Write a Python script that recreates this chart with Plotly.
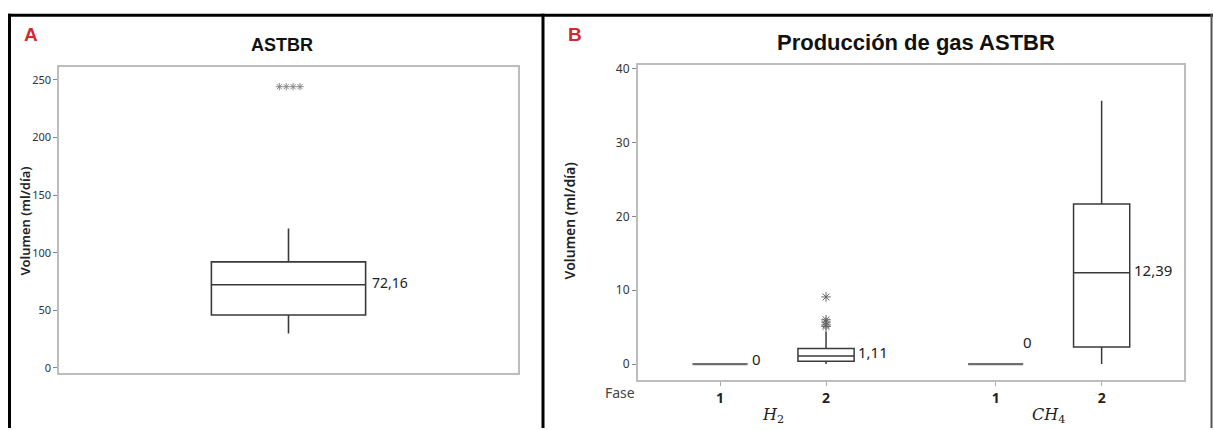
import plotly.graph_objects as go

W, H = 1213, 430

# ---------------- data ----------------
# Panel A: ASTBR daily volume (ml/día)
a_stats = dict(lower=30.0, q1=46.0, median=72.16, q3=92.0, upper=121.0)
a_outliers = [244.0, 244.0, 244.0, 244.0]

# Panel B: gas production per phase
b_gases = ["H2", "H2", "CH4", "CH4"]
b_phases = ["1", "2", "1", "2"]
b_lower = [0.0, 0.0, 0.0, 0.0]
b_q1 = [0.0, 0.4, 0.0, 2.3]
b_median = [0.0, 1.11, 0.0, 12.39]
b_q3 = [0.0, 2.1, 0.0, 21.7]
b_upper = [0.0, 4.4, 0.0, 35.7]
b_h2_outliers = [9.1, 6.0, 5.7, 5.3, 5.1]

a_ticks = [0, 50, 100, 150, 200, 250]
b_ticks = [0, 10, 20, 30, 40]

# ---------------- layout helpers ----------------
def px_x(p):
    return p / W

def px_y(p):
    return 1 - p / H

b_pos = [1.0, 2.0, 3.6, 4.6]

def fmt(v):
    s = f"{v:.2f}".rstrip("0").rstrip(".")
    return s.replace(".", ",")

BOX_LINE = "#3a3a3a"
FLAT_LINE = "#6e6e6e"
FRAME = "#bdbdbd"
TXT = "#333333"

fig = go.Figure()

# Panel A box
fig.add_trace(go.Box(
    x=[1.0], q1=[a_stats["q1"]], median=[a_stats["median"]], q3=[a_stats["q3"]],
    lowerfence=[a_stats["lower"]], upperfence=[a_stats["upper"]],
    width=0.672, whiskerwidth=0, fillcolor="white",
    line=dict(color=BOX_LINE, width=1.6), boxpoints=False,
    xaxis="x", yaxis="y", showlegend=False, hoverinfo="skip"))

# Panel A outliers, stacked side by side
a_offsets = [-0.04, -0.01, 0.02, 0.05]
fig.add_trace(go.Scatter(
    x=[1.0 + o for o in a_offsets], y=a_outliers, mode="markers",
    marker=dict(symbol="asterisk-open", size=6, color="#8a8a8a",
                line=dict(color="#8a8a8a", width=1)),
    xaxis="x", yaxis="y", showlegend=False, hoverinfo="skip"))

# Panel B boxes
for i in range(4):
    flat = b_q3[i] == b_q1[i]
    fig.add_trace(go.Box(
        x=[b_pos[i]], q1=[b_q1[i]], median=[b_median[i]], q3=[b_q3[i]],
        lowerfence=[b_lower[i]], upperfence=[b_upper[i]],
        width=0.52 if flat else 0.53, whiskerwidth=0, fillcolor="white",
        line=dict(color=FLAT_LINE if flat else BOX_LINE, width=2.2 if flat else 1.5),
        boxpoints=False, xaxis="x2", yaxis="y2", showlegend=False, hoverinfo="skip"))

# Panel B outliers (H2, phase 2)
fig.add_trace(go.Scatter(
    x=[b_pos[1]] * len(b_h2_outliers), y=b_h2_outliers, mode="markers",
    marker=dict(symbol="asterisk-open", size=8, color="#666666",
                line=dict(color="#666666", width=1)),
    xaxis="x2", yaxis="y2", showlegend=False, hoverinfo="skip"))

tick_font_a = dict(family="Noto Sans", size=11, color=TXT)
tick_font_b = dict(family="Noto Sans", size=12, color=TXT)

fig.update_layout(
    width=W, height=H,
    margin=dict(l=0, r=0, t=0, b=0),
    paper_bgcolor="white", plot_bgcolor="white",
    boxmode="overlay",
    xaxis=dict(domain=[px_x(59), px_x(518)], range=[0, 2], showticklabels=False,
               ticks="", showgrid=False, zeroline=False, showline=True, mirror=True,
               linecolor=FRAME, linewidth=1.5),
    yaxis=dict(domain=[px_y(374), px_y(63)], range=[-4.27, 261.1], tickvals=a_ticks,
               ticks="outside", ticklen=4, tickcolor="#888", tickfont=tick_font_a,
               showgrid=False, zeroline=False, showline=True, mirror=True,
               linecolor=FRAME, linewidth=1.5),
    xaxis2=dict(domain=[px_x(638), px_x(1184)], range=[0.226, 5.377], anchor="y2",
                tickvals=b_pos, ticktext=[f"<b>{p}</b>" for p in b_phases],
                ticks="outside", ticklen=4, tickcolor="#aaa",
                tickfont=dict(family="Noto Sans", size=14, color="#222"),
                showgrid=False, zeroline=False, showline=True, mirror=True,
                linecolor=FRAME, linewidth=2),
    yaxis2=dict(domain=[px_y(381), px_y(61)], range=[-2.13, 40.53], anchor="x2",
                tickvals=b_ticks, ticks="outside", ticklen=4, tickcolor="#888",
                tickfont=tick_font_b, showgrid=False, zeroline=False, showline=True,
                mirror=True, linecolor=FRAME, linewidth=2),
)

def paper_text(text, xp, yp, font, angle=0):
    return dict(text=text, x=px_x(xp), y=px_y(yp), xref="paper", yref="paper",
                xanchor="center", yanchor="middle", textangle=angle,
                showarrow=False, font=font)

ann = []
# panel letters
ann.append(paper_text("<b>A</b>", 31, 30,
                      dict(family="Liberation Sans", size=19, color="#d42a2f")))
ann.append(paper_text("<b>B</b>", 575, 30,
                      dict(family="Liberation Sans", size=19, color="#d42a2f")))
# titles
ann.append(paper_text("<b>ASTBR</b>", 282, 41,
                      dict(family="Liberation Sans", size=18, color="#111")))
ann.append(paper_text("<b>Producción de gas ASTBR</b>", 916, 38,
                      dict(family="Liberation Sans", size=22, color="#111")))
# y-axis titles
ann.append(paper_text("Volumen (ml/día)", 25, 220,
                      dict(family="Noto Sans", size=13, color="#222", weight=600), angle=-90))
ann.append(paper_text("Volumen (ml/día)", 569, 220,
                      dict(family="Noto Sans", size=14, color="#222", weight=600), angle=-90))
# "Fase" caption and gas names
ann.append(paper_text("Fase", 620, 394, dict(family="Noto Sans", size=14, color="#444")))
gas_label = {"H2": "<i>H</i><sub>2</sub>", "CH4": "<i>CH</i><sub>4</sub>"}
for g, centre in (("H2", (b_pos[0] + b_pos[1]) / 2), ("CH4", (b_pos[2] + b_pos[3]) / 2)):
    ann.append(dict(text=gas_label[g], x=centre, y=px_y(417), xref="x2", yref="paper",
                    xanchor="center", yanchor="middle", showarrow=False,
                    font=dict(family="DejaVu Serif", size=16, color="#222")))

val_font = dict(family="Noto Sans", size=15, color="#222")
# median labels
ann.append(dict(text=fmt(a_stats["median"]), x=1.0 + 0.672 / 2, y=a_stats["median"],
                xref="x", yref="y", xanchor="left", yanchor="middle", xshift=4, yshift=2,
                showarrow=False, font=dict(family="Noto Sans", size=14, color="#222")))
label_shift = [(2, 5), (2, 4), (-2, 22), (2, 3)]
for i in range(4):
    w = 0.52 if b_q3[i] == b_q1[i] else 0.53
    ann.append(dict(text=fmt(b_median[i]), x=b_pos[i] + w / 2, y=b_median[i],
                    xref="x2", yref="y2", xanchor="left", yanchor="middle",
                    xshift=label_shift[i][0], yshift=label_shift[i][1], showarrow=False,
                    font=val_font))
fig.update_layout(annotations=ann)

# outer panel borders
shapes = [
    dict(type="line", xref="paper", yref="paper", x0=px_x(8), x1=1, y0=px_y(10.5), y1=px_y(10.5),
         line=dict(color="#000", width=3)),
    dict(type="line", xref="paper", yref="paper", x0=px_x(9.5), x1=px_x(9.5), y0=px_y(9), y1=0,
         line=dict(color="#000", width=3)),
    dict(type="line", xref="paper", yref="paper", x0=px_x(543), x1=px_x(543), y0=px_y(9), y1=0,
         line=dict(color="#000", width=3)),
    dict(type="line", xref="paper", yref="paper", x0=px_x(1211.5), x1=px_x(1211.5), y0=px_y(9), y1=0,
         line=dict(color="#555", width=2)),
]
fig.update_layout(shapes=shapes)

fig.write_html("out.html")
